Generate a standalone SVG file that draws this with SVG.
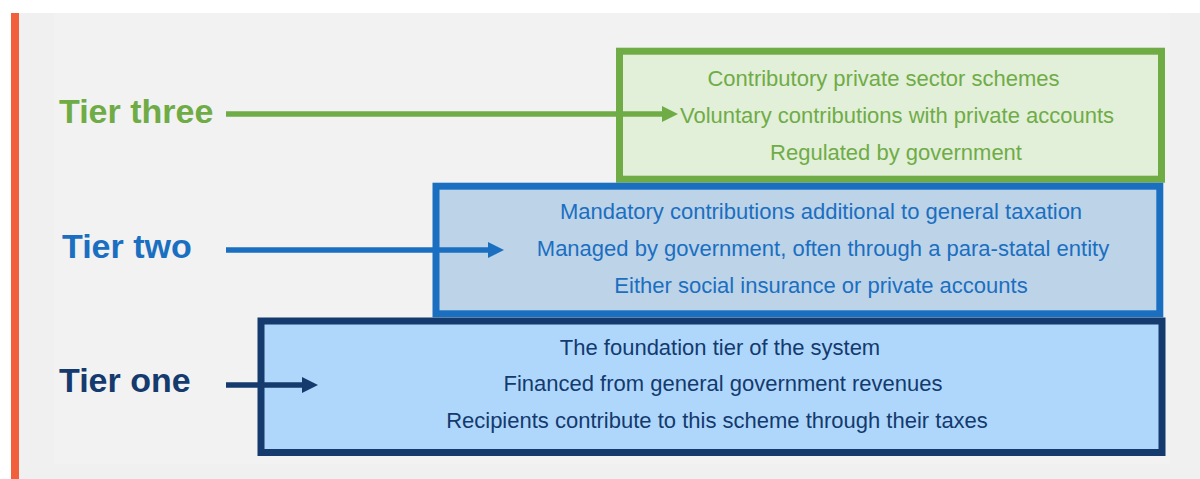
<svg xmlns="http://www.w3.org/2000/svg" width="1200" height="479" viewBox="0 0 1200 479">
  <style>
    .label { font-family: "Liberation Sans", Arial, sans-serif; font-weight: bold; font-size: 34px; }
    .body { font-family: "Liberation Sans", Arial, sans-serif; font-size: 22px; text-anchor: middle; }
    .box { stroke-width: 7; }
    .shaft { stroke-width: 5.5; fill: none; }
    .green { fill: #6FAC46; }
    .blue { fill: #1A6FC1; }
    .navy { fill: #143A6E; }
  </style>
  <defs>
    <marker id="head-green" markerUnits="userSpaceOnUse" markerWidth="16" markerHeight="16" refX="0" refY="8" orient="auto">
      <path d="M0,0 L16,8 L0,16 Z" fill="#6FAC46"/>
    </marker>
    <marker id="head-blue" markerUnits="userSpaceOnUse" markerWidth="16" markerHeight="16" refX="0" refY="8" orient="auto">
      <path d="M0,0 L16,8 L0,16 Z" fill="#1A6FC1"/>
    </marker>
    <marker id="head-navy" markerUnits="userSpaceOnUse" markerWidth="16" markerHeight="16" refX="0" refY="8" orient="auto">
      <path d="M0,0 L16,8 L0,16 Z" fill="#143A6E"/>
    </marker>
  </defs>

  <!-- page background and accent bar -->
  <rect x="0" y="0" width="1200" height="479" fill="#FFFFFF"/>
  <rect x="11" y="13" width="1189" height="466" fill="#F0F0F0"/>
  <rect x="54" y="13" width="1116" height="451" fill="#F2F2F2"/>
  <rect x="11" y="13" width="8" height="466" fill="#F15F3B"/>

  <!-- tier three -->
  <g id="tier-three">
    <rect class="box" x="619.5" y="51.2" width="542" height="128" fill="#E2EFD9" stroke="#6FAC46"/>
    <text class="label green" x="59" y="123">Tier three</text>
    <text class="body green" x="883.5" y="85.5">Contributory private sector schemes</text>
    <text class="body green" x="897" y="122.5">Voluntary contributions with private accounts</text>
    <text class="body green" x="896" y="159.5">Regulated by government</text>
  </g>

  <!-- tier two -->
  <g id="tier-two">
    <rect class="box" x="436" y="186.2" width="723.8" height="127.6" fill="#BDD3E8" stroke="#1A6FC1"/>
    <text class="label blue" x="62" y="257.5">Tier two</text>
    <text class="body blue" x="821" y="219">Mandatory contributions additional to general taxation</text>
    <text class="body blue" x="823" y="256">Managed by government, often through a para-statal entity</text>
    <text class="body blue" x="821" y="293">Either social insurance or private accounts</text>
  </g>

  <!-- tier one -->
  <g id="tier-one">
    <rect class="box" x="261" y="321" width="901" height="131.5" fill="#AFD7FC" stroke="#143A6E"/>
    <text class="label navy" x="59" y="392">Tier one</text>
    <text class="body navy" x="720" y="354.5">The foundation tier of the system</text>
    <text class="body navy" x="723" y="391">Financed from general government revenues</text>
    <text class="body navy" x="717" y="428">Recipients contribute to this scheme through their taxes</text>
  </g>

  <!-- connectors from labels into each tier -->
  <g id="connectors">
    <line class="shaft" x1="226" y1="114" x2="662" y2="114" stroke="#6FAC46" marker-end="url(#head-green)"/>
    <line class="shaft" x1="226" y1="250" x2="488" y2="250" stroke="#1A6FC1" marker-end="url(#head-blue)"/>
    <line class="shaft" x1="226" y1="385" x2="302" y2="385" stroke="#143A6E" marker-end="url(#head-navy)"/>
  </g>
</svg>
